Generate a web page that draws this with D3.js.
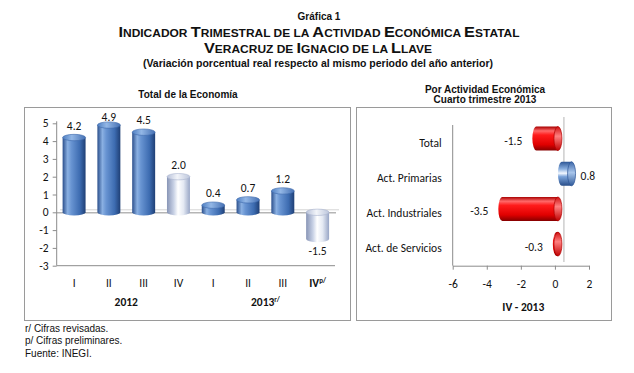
<!DOCTYPE html>
<html>
<head>
<meta charset="utf-8">
<script src="https://cdn.jsdelivr.net/npm/d3@7"></script>
<style>
  body { margin: 0; background: #fff; }
  text { fill: #111; }
  .arial { font-family: "Liberation Sans", Arial, sans-serif; }
  .cal { font-family: Carlito, Lato, "Open Sans", sans-serif; }
</style>
</head>
<body>
<div id="chart"></div>
<script>
// data
var quarters = ["I", "II", "III", "IV", "I", "II", "III", "IV"];
var totalValues = [4.2, 4.9, 4.5, 2.0, 0.4, 0.7, 1.2, -1.5];
var lightBars = [false, false, false, true, false, false, false, true];
var years = ["2012", "2013"];
var yTicks = [-3, -2, -1, 0, 1, 2, 3, 4, 5];

var sectors = ["Total", "Act. Primarias", "Act. Industriales", "Act. de Servicios"];
var sectorValues = [-1.5, 0.8, -3.5, -0.3];
var xTicks = [-6, -4, -2, 0, 2];

var W = 634, H = 373;

// plain hyphen for negatives, as in the original
var loc = d3.formatLocale({ decimal: ".", thousands: ",", grouping: [3], currency: ["$", ""], minus: "-" });
var fmtInt = loc.format("d"),
    fmtVal = loc.format(".1f");

var svg = d3.select("#chart").append("svg")
    .attr("width", W)
    .attr("height", H);

var defs = svg.append("defs");

function gradient(id, horizontal, stops) {
    var g = defs.append("linearGradient")
        .attr("id", id)
        .attr("x1", 0).attr("y1", 0)
        .attr("x2", horizontal ? 1 : 0)
        .attr("y2", horizontal ? 0 : 1);
    stops.forEach(function (s) {
        g.append("stop").attr("offset", s[0]).attr("stop-color", s[1]);
    });
}

// vertical cylinders (shade runs left to right)
gradient("cylBlue", true, [["0%", "#2b4f8c"], ["22%", "#8ab0e2"], ["38%", "#6894d2"], ["75%", "#3d6cb1"], ["100%", "#1f3f75"]]);
gradient("capBlue", true, [["0%", "#4f7fc2"], ["40%", "#93b7e6"], ["100%", "#4570b3"]]);
gradient("cylLight", true, [["0%", "#8895b6"], ["30%", "#c9d2e6"], ["48%", "#ffffff"], ["72%", "#e4e9f3"], ["100%", "#98a6c6"]]);
gradient("capLight", true, [["0%", "#b8c2da"], ["45%", "#f2f4f9"], ["100%", "#bcc6dc"]]);
// horizontal cylinders (shade runs top to bottom)
gradient("hRed", false, [["0%", "#a80000"], ["18%", "#ff6a6a"], ["35%", "#ff1c1c"], ["75%", "#e00000"], ["100%", "#860000"]]);
gradient("hRedCap", false, [["0%", "#d01010"], ["40%", "#ff8080"], ["100%", "#c00000"]]);
gradient("hBlue", false, [["0%", "#2d5696"], ["30%", "#8bb0e0"], ["48%", "#f2f7ff"], ["62%", "#7aa3da"], ["100%", "#284d88"]]);
gradient("hBlueCap", false, [["0%", "#3b66a8"], ["45%", "#a9c6ec"], ["100%", "#2f5a9a"]]);

svg.append("rect").attr("width", W).attr("height", H).attr("fill", "#fff");

// small caps title line
function smallCaps(sel, str, big, small) {
    var runs = [];
    for (var i = 0; i < str.length; i++) {
        var ch = str[i];
        var isBig = ch !== ch.toLowerCase();
        var last = runs[runs.length - 1];
        if (last && last.big === isBig) last.t += ch;
        else runs.push({ big: isBig, t: ch });
    }
    runs.forEach(function (r) {
        sel.append("tspan")
            .attr("font-size", r.big ? big : small)
            .text(r.t.toUpperCase());
    });
    return sel;
}

svg.append("text").attr("class", "arial")
    .attr("x", 319).attr("y", 19.5)
    .attr("text-anchor", "middle")
    .attr("font-size", 10).attr("font-weight", "bold")
    .text("Gráfica 1");

smallCaps(svg.append("text").attr("class", "arial")
    .attr("x", 319).attr("y", 37.3)
    .attr("text-anchor", "middle").attr("font-weight", "bold")
    .attr("textLength", 401).attr("lengthAdjust", "spacingAndGlyphs"),
    "Indicador Trimestral de la Actividad Económica Estatal", 15, 11);

smallCaps(svg.append("text").attr("class", "arial")
    .attr("x", 318).attr("y", 53.3)
    .attr("text-anchor", "middle").attr("font-weight", "bold")
    .attr("textLength", 228).attr("lengthAdjust", "spacingAndGlyphs"),
    "Veracruz de Ignacio de la Llave", 15, 11);

svg.append("text").attr("class", "arial")
    .attr("x", 318).attr("y", 67)
    .attr("text-anchor", "middle")
    .attr("font-size", 10.5).attr("font-weight", "bold")
    .text("(Variación porcentual real respecto al mismo periodo del año anterior)");

// panel frames
svg.append("rect")
    .attr("x", 24.5).attr("y", 107.5).attr("width", 326).attr("height", 213)
    .attr("fill", "none").attr("stroke", "#9a9a9a");
svg.append("rect")
    .attr("x", 356.5).attr("y", 107.5).attr("width", 255).attr("height", 213)
    .attr("fill", "none").attr("stroke", "#9a9a9a");

// ---------- left panel: total de la economia ----------
svg.append("text").attr("class", "arial")
    .attr("x", 188).attr("y", 97.5)
    .attr("text-anchor", "middle")
    .attr("font-size", 10).attr("font-weight", "bold")
    .text("Total de la Economía");

var x = d3.scaleBand()
    .domain(d3.range(quarters.length))
    .range([56.7, 335])
    .paddingInner(0.34)
    .paddingOuter(0.17);

var y = d3.scaleLinear()
    .domain([-3, 5])
    .range([265.7, 123.3]);

var left = svg.append("g");

// floor at zero
left.append("line")
    .attr("x1", 60).attr("x2", 339)
    .attr("y1", y(0) - 2.5).attr("y2", y(0) - 2.5)
    .attr("stroke", "#d4d4d4").attr("stroke-width", 1);
left.append("line")
    .attr("x1", 56.7).attr("x2", 336)
    .attr("y1", y(0) + 0.5).attr("y2", y(0) + 0.5)
    .attr("stroke", "#b5b5b5").attr("stroke-width", 1.5);

// axes
var yAxis = left.append("g")
    .attr("transform", "translate(56.7,0)")
    .call(d3.axisLeft(y).tickValues(yTicks).tickSize(4).tickFormat(fmtInt));
yAxis.select(".domain").attr("stroke", "#8c8c8c").attr("d", "M0," + (y(5) - 2) + "V" + y(-3));
yAxis.selectAll(".tick line").attr("stroke", "#8c8c8c");
yAxis.selectAll(".tick text")
    .attr("class", "cal").attr("font-size", 11.5).attr("fill", "#111").attr("x", -8);

left.append("line")
    .attr("x1", 56.7).attr("x2", 335)
    .attr("y1", y(-3)).attr("y2", y(-3))
    .attr("stroke", "#8c8c8c");

// cylinder bars
var ry = 3.2;
var bars = left.selectAll("g.bar")
    .data(totalValues)
    .enter().append("g")
    .attr("class", "bar");

bars.append("path")
    .attr("fill", function (d, i) { return lightBars[i] ? "url(#cylLight)" : "url(#cylBlue)"; })
    .attr("d", function (d, i) {
        var x0 = x(i), w = x.bandwidth();
        var top = y(Math.max(d, 0)), bot = y(Math.min(d, 0));
        return "M" + x0 + "," + top + "L" + x0 + "," + bot +
            "A" + (w / 2) + "," + ry + " 0 0 0 " + (x0 + w) + "," + bot +
            "L" + (x0 + w) + "," + top + "Z";
    });

bars.append("ellipse")
    .attr("cx", function (d, i) { return x(i) + x.bandwidth() / 2; })
    .attr("cy", function (d) { return y(Math.max(d, 0)); })
    .attr("rx", x.bandwidth() / 2)
    .attr("ry", ry)
    .attr("fill", function (d, i) { return lightBars[i] ? "url(#capLight)" : "url(#capBlue)"; })
    .attr("stroke", function (d, i) { return lightBars[i] ? "#a9b4cf" : "#3c68ab"; })
    .attr("stroke-width", 0.6);

bars.append("text")
    .attr("class", "cal")
    .attr("font-size", 11.5)
    .attr("text-anchor", "middle")
    .attr("x", function (d, i) { return x(i) + x.bandwidth() / 2; })
    .attr("y", function (d) {
        return d >= 0 ? Math.max(y(d) - 8, 120.5) : y(d) + 15.5;
    })
    .text(function (d) { return fmtVal(d); });

// category labels
left.selectAll("text.q")
    .data(quarters)
    .enter().append("text")
    .attr("class", "cal q")
    .attr("font-size", 11.5)
    .attr("text-anchor", "middle")
    .attr("font-weight", function (d, i) { return i === quarters.length - 1 ? "bold" : "normal"; })
    .attr("x", function (d, i) { return x(i) + x.bandwidth() / 2; })
    .attr("y", 287)
    .each(function (d, i) {
        var t = d3.select(this);
        t.append("tspan").text(d);
        if (i === quarters.length - 1) {
            t.append("tspan").attr("font-size", 7).attr("dy", -4).text("p/");
        }
    });

// year labels
years.forEach(function (yr, k) {
    var mid = (x(k * 4 + 1) + x(k * 4 + 2) + x.bandwidth()) / 2;
    var t = left.append("text")
        .attr("class", "cal")
        .attr("font-size", 11.5).attr("font-weight", "bold")
        .attr("text-anchor", "middle")
        .attr("x", mid).attr("y", 305.5);
    t.append("tspan").text(yr);
    if (k === 1) t.append("tspan").attr("font-size", 7).attr("dy", -4).text("r/");
});

// ---------- right panel: por actividad economica ----------
svg.append("text").attr("class", "arial")
    .attr("x", 485).attr("y", 92.8)
    .attr("text-anchor", "middle")
    .attr("font-size", 10).attr("font-weight", "bold")
    .text("Por Actividad Económica");
svg.append("text").attr("class", "arial")
    .attr("x", 485).attr("y", 103.2)
    .attr("text-anchor", "middle")
    .attr("font-size", 10).attr("font-weight", "bold")
    .text("Cuarto trimestre 2013");

var x2 = d3.scaleLinear()
    .domain([-6, 2])
    .range([452.7, 589]);

var y2 = d3.scaleBand()
    .domain(sectors)
    .range([125, 265.7]);

var right = svg.append("g");

// back wall edge at zero
right.append("line")
    .attr("x1", x2(0) + 9).attr("x2", x2(0) + 9)
    .attr("y1", 117).attr("y2", 262)
    .attr("stroke", "#b4b4b4");

var xAxis = right.append("g")
    .attr("transform", "translate(0," + y2.range()[1] + ")")
    .call(d3.axisBottom(x2).tickValues(xTicks).tickSize(4).tickSizeOuter(0).tickFormat(fmtInt));
xAxis.select(".domain").attr("stroke", "#8c8c8c");
xAxis.selectAll(".tick line").attr("stroke", "#8c8c8c");
xAxis.selectAll(".tick text")
    .attr("class", "cal").attr("font-size", 11.5).attr("fill", "#111").attr("y", 14);

right.append("line")
    .attr("x1", x2(-6)).attr("x2", x2(-6))
    .attr("y1", y2.range()[0]).attr("y2", y2.range()[1])
    .attr("stroke", "#8c8c8c");

right.selectAll("text.cat")
    .data(sectors)
    .enter().append("text")
    .attr("class", "cal cat")
    .attr("font-size", 11.5)
    .attr("text-anchor", "end")
    .attr("x", 441.7)
    .attr("y", function (d) { return y2(d) + y2.bandwidth() / 2 + 4; })
    .text(function (d) { return d; });

var hh = 24, rx = 4, dx = 3, dy = -4;
var hbars = right.selectAll("g.hbar")
    .data(sectorValues)
    .enter().append("g")
    .attr("class", "hbar");

hbars.append("path")
    .attr("fill", function (d) { return d < 0 ? "url(#hRed)" : "url(#hBlue)"; })
    .attr("d", function (d, i) {
        var cy = y2(sectors[i]) + y2.bandwidth() / 2 + dy;
        var l = x2(Math.min(d, 0)) + dx, r = x2(Math.max(d, 0)) + dx;
        var top = cy - hh / 2, bot = cy + hh / 2;
        return "M" + r + "," + top + "L" + (l + rx) + "," + top +
            "A" + rx + "," + (hh / 2) + " 0 0 0 " + (l + rx) + "," + bot +
            "L" + r + "," + bot + "Z";
    });

hbars.append("ellipse")
    .attr("cx", function (d) { return x2(Math.max(d, 0)) + dx; })
    .attr("cy", function (d, i) { return y2(sectors[i]) + y2.bandwidth() / 2 + dy; })
    .attr("rx", rx)
    .attr("ry", hh / 2)
    .attr("fill", function (d) { return d < 0 ? "url(#hRedCap)" : "url(#hBlueCap)"; })
    .attr("stroke", function (d) { return d < 0 ? "#b00000" : "#2c5596"; })
    .attr("stroke-width", 0.7);

hbars.append("text")
    .attr("class", "cal")
    .attr("font-size", 11.5)
    .attr("text-anchor", function (d) { return d < 0 ? "end" : "start"; })
    .attr("x", function (d) { return d < 0 ? x2(d) - 7 : x2(d) + dx + rx + 5; })
    .attr("y", function (d, i) { return y2(sectors[i]) + y2.bandwidth() / 2 + 2.5; })
    .text(function (d) { return fmtVal(d); });

right.append("text")
    .attr("class", "cal")
    .attr("font-size", 11.5).attr("font-weight", "bold")
    .attr("text-anchor", "middle")
    .attr("x", 523.3).attr("y", 310.5)
    .text("IV - 2013");

// ---------- notes ----------
var notes = ["r/ Cifras revisadas.", "p/ Cifras preliminares.", "Fuente: INEGI."];
svg.selectAll("text.note")
    .data(notes)
    .enter().append("text")
    .attr("class", "arial note")
    .attr("font-size", 10)
    .attr("x", 25)
    .attr("y", function (d, i) { return 332 + i * 12.3; })
    .text(function (d) { return d; });
</script>
</body>
</html>
